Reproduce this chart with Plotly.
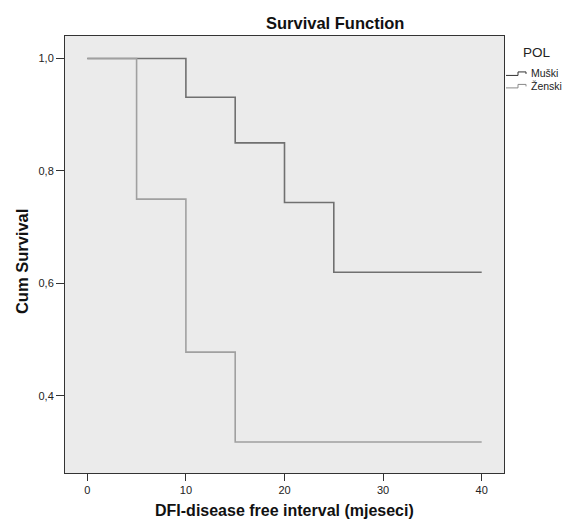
import plotly.graph_objects as go

# ---- data ----
group_names = ["Muški", "Ženski"]
male_time = [0, 10, 15, 20, 25, 40]
male_surv = [1.0, 0.931, 0.850, 0.744, 0.620, 0.620]
female_time = [0, 5, 10, 15, 40]
female_surv = [1.0, 0.75, 0.478, 0.318, 0.318]
x_ticks = [0, 10, 20, 30, 40]
y_ticks = [0.4, 0.6, 0.8, 1.0]

W, H = 568, 522
L, R, T, B = 65, 504, 35.5, 473.3

FONT = "Arial, Liberation Sans, sans-serif"
male_color = "#707070"
female_color = "#a0a0a0"

def px(x):
    return (x - L) / (R - L)

def py(y):
    return (B - y) / (B - T)

fig = go.Figure()
fig.add_trace(go.Scatter(x=male_time, y=male_surv, mode="lines", line_shape="hv",
                         line=dict(color=male_color, width=1.6), name=group_names[0],
                         showlegend=False))
fig.add_trace(go.Scatter(x=female_time, y=female_surv, mode="lines", line_shape="hv",
                         line=dict(color=female_color, width=1.6), name=group_names[1],
                         showlegend=False))

shapes = []
# legend glyphs (step shaped)
for (yc, col) in [(73, "#333333"), (85.5, "#8a8a8a")]:
    x0, x1, x2 = 506, 518, 526
    yl, yh = yc + 2, yc - 1.5
    path = (f"M {px(x0)},{py(yl)} L {px(x1)},{py(yl)} L {px(x1)},{py(yh)} "
            f"L {px(x2)},{py(yh)} L {px(x2)},{py(yc + 0.5)}")
    shapes.append(dict(type="path", xref="paper", yref="paper", path=path,
                       line=dict(color=col, width=1)))

annotations = [
    dict(text="<b>Survival Function</b>", x=px(335), y=py(22), xref="paper", yref="paper",
         showarrow=False, font=dict(family=FONT, size=16.5, color="#111"),
         xanchor="center", yanchor="middle"),
    dict(text="<b>DFI-disease free interval (mjeseci)</b>", x=px(284), y=py(511),
         xref="paper", yref="paper", showarrow=False,
         font=dict(family=FONT, size=16, color="#111"), xanchor="center", yanchor="middle"),
    dict(text="<b>Cum Survival</b>", x=px(22), y=py(262), xref="paper", yref="paper",
         showarrow=False, textangle=-90, font=dict(family=FONT, size=16.5, color="#111"),
         xanchor="center", yanchor="middle"),
    dict(text="POL", x=px(537), y=py(52), xref="paper", yref="paper", showarrow=False,
         font=dict(family=FONT, size=13.5, color="#222"), xanchor="center", yanchor="middle"),
    dict(text=group_names[0], x=px(529), y=py(73), xref="paper", yref="paper",
         showarrow=False, font=dict(family=FONT, size=10.5, color="#222"),
         xanchor="left", yanchor="middle"),
    dict(text=group_names[1], x=px(529), y=py(85.5), xref="paper", yref="paper",
         showarrow=False, font=dict(family=FONT, size=10.5, color="#222"),
         xanchor="left", yanchor="middle"),
]

fig.update_layout(
    width=W, height=H,
    margin=dict(l=L, r=W - R, t=T, b=H - B, pad=0),
    paper_bgcolor="white", plot_bgcolor="#ebebeb",
    separators=",.",
    shapes=shapes, annotations=annotations,
    showlegend=False,
    font=dict(family=FONT, size=11, color="#222"),
)
fig.update_xaxes(range=[-2.26, 42.26], tickvals=x_ticks, ticks="outside", ticklen=7,
                 tickcolor="#333", showgrid=False, zeroline=False, showline=True,
                 linecolor="#333", linewidth=1, mirror=True,
                 tickfont=dict(family=FONT, size=11, color="#222"))
fig.update_yaxes(range=[0.263, 1.040], tickvals=y_ticks, tickformat=".1f", ticks="outside",
                 ticklen=8, tickcolor="#333", showgrid=False, zeroline=False, showline=True,
                 linecolor="#333", linewidth=1, mirror=True,
                 tickfont=dict(family=FONT, size=11, color="#222"))

fig.write_html("out.html", config={"displayModeBar": False},
               post_script="document.body.style.margin='0';document.body.style.padding='0';")
